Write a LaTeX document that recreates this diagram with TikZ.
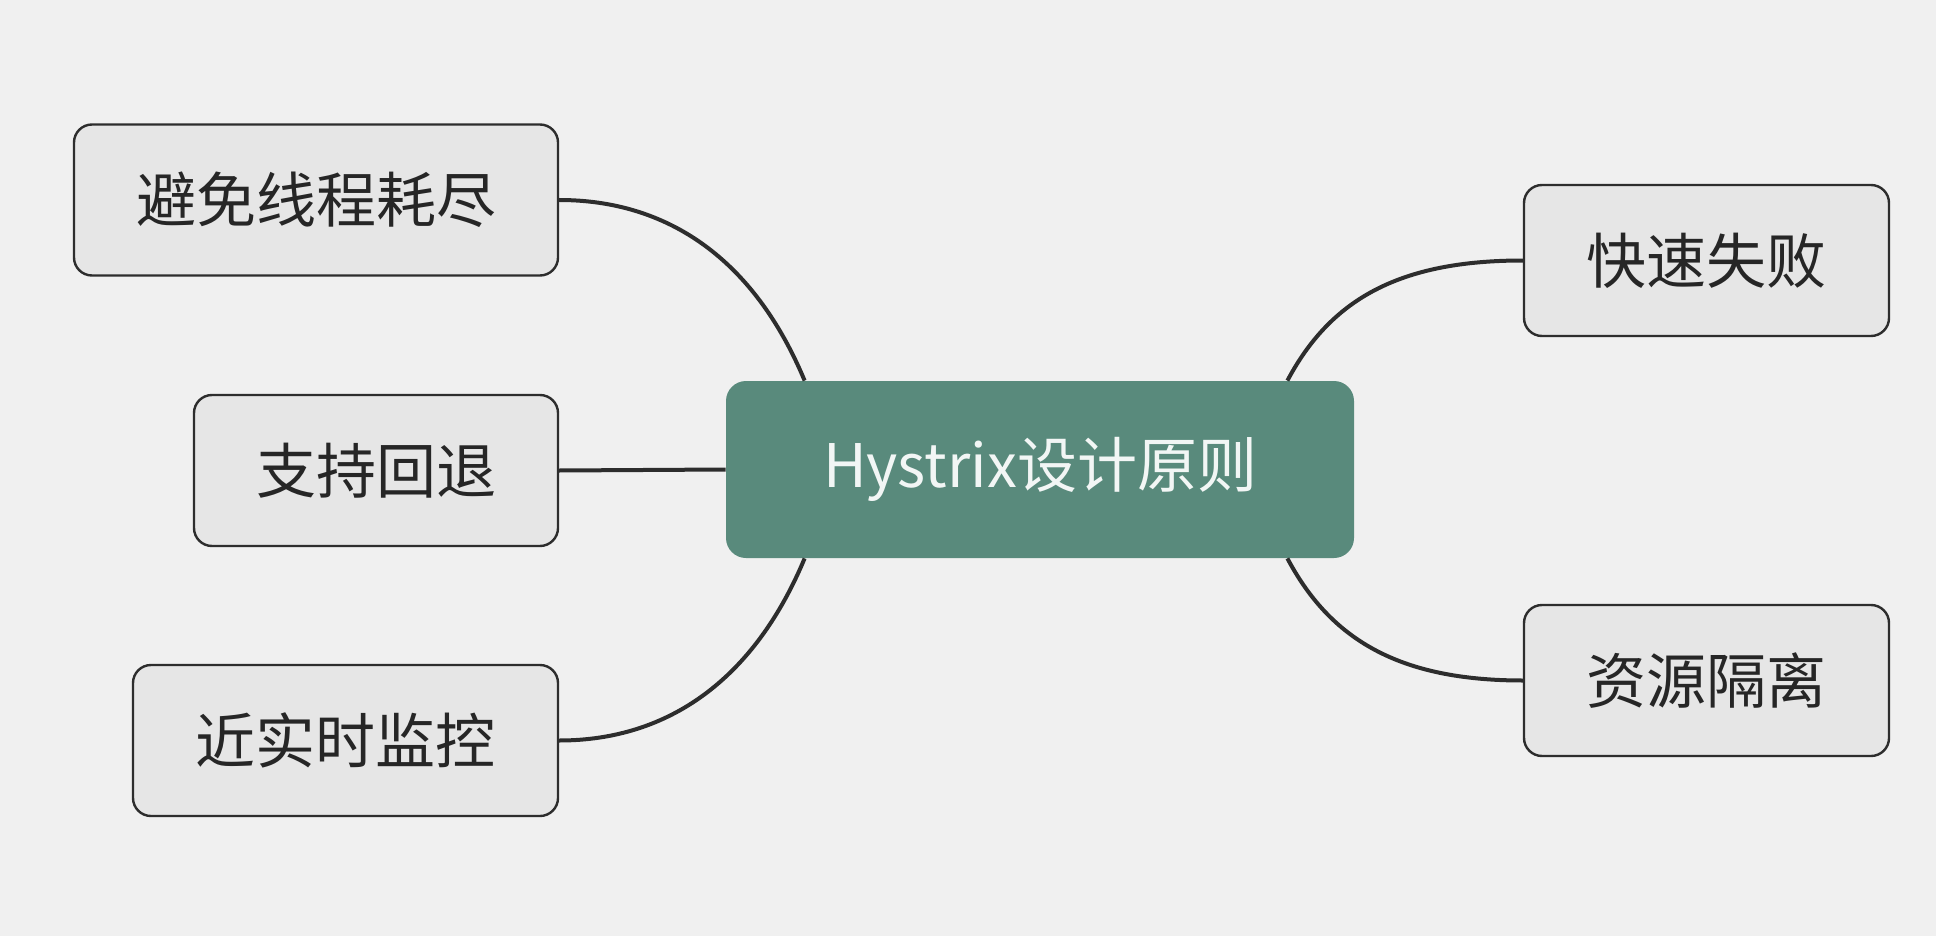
\documentclass[tikz,border=0pt]{standalone}
\usepackage{fontspec}
\setmainfont{Noto Sans CJK SC}
\definecolor{bgcol}{RGB}{240,240,240}
\definecolor{leafcol}{RGB}{230,230,230}
\definecolor{hubcol}{RGB}{89,138,124}
\definecolor{linecol}{RGB}{45,45,45}
\tikzset{
  leaf/.style={draw=linecol, line width=1.2pt, fill=leafcol, rounded corners=9pt,
    minimum height=75.5pt, inner sep=0pt, text=black!85,
    font=\fontsize{30}{36}\selectfont},
  hub/.style={fill=hubcol, rounded corners=10pt, minimum width=314pt,
    minimum height=88.5pt, inner sep=0pt, text={rgb,255:red,242;green,246;blue,245},
    font=\fontsize{30}{36}\selectfont},
  branch/.style={draw=linecol, line width=2pt}
}
\begin{document}
\begin{tikzpicture}[x=0.5pt,y=0.5pt,yscale=-1,xscale=1]
%Background
\fill [bgcol] (0,0) rectangle (1936,936) ;
\useasboundingbox (0,0) rectangle (1936,936) ;

% Hub Node
\node [hub] (hub) at (1040,469.5) {Hystrix设计原则};
% Leaf Nodes
\node [leaf, minimum width=242pt] (lt) at (316,200) {避免线程耗尽};
\node [leaf, minimum width=182pt] (lm) at (376,470.5) {支持回退};
\node [leaf, minimum width=212.5pt] (lb) at (345.5,740.5) {近实时监控};
\node [leaf, minimum width=182.5pt] (rt) at (1706.5,260.5) {快速失败};
\node [leaf, minimum width=182.5pt] (rb) at (1706.5,680.5) {资源隔离};

%Curves
\draw [branch] (lt.east) .. controls +(110,0) and +(-50,-120) .. ([xshift=39.5pt]hub.north west) ;
\draw [branch] (lm.east) -- (hub.west) ;
\draw [branch] (lb.east) .. controls +(110,0) and +(-50,120) .. ([xshift=39.5pt]hub.south west) ;
\draw [branch] ([xshift=-33.5pt]hub.north east) .. controls +(43,-81) and +(-124,0) .. (rt.west) ;
\draw [branch] ([xshift=-33.5pt]hub.south east) .. controls +(43,81) and +(-124,0) .. (rb.west) ;

\end{tikzpicture}
\end{document}
